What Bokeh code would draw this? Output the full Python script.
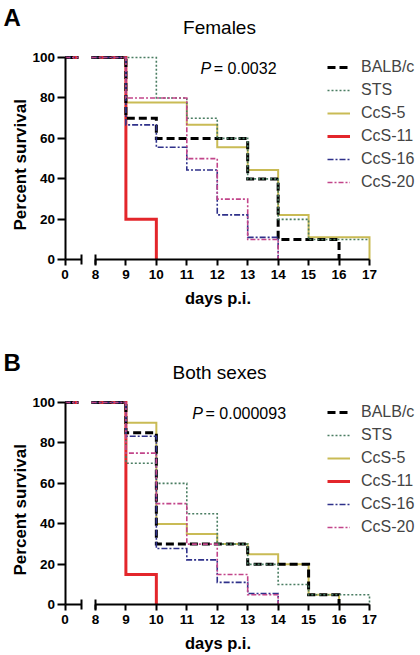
import math
from bokeh.plotting import figure
from bokeh.models import (Label, Legend, LegendItem, LinearAxis, FixedTicker, Range1d)
from bokeh.layouts import column
from bokeh.embed import file_html
from bokeh.resources import INLINE

FONT = "Liberation Sans"

# ---------------- data ----------------
strains = ["BALB/c", "STS", "CcS-5", "CcS-11", "CcS-16", "CcS-20"]

x_tick_days = [0, 8, 9, 10, 11, 12, 13, 14, 15, 16, 17]
y_ticks = [0, 20, 40, 60, 80, 100]

# Females: days of death and percent survival after each event
fem_balbc_days = [9, 10, 13, 14, 16]
fem_balbc_surv = [70, 60, 40, 10, 0]
fem_sts_days = [10, 11, 12, 13, 14, 15]
fem_sts_surv = [80, 70, 60, 40, 20, 10]
fem_ccs5_days = [9, 11, 12, 13, 14, 15, 17]
fem_ccs5_surv = [77.8, 66.7, 55.6, 44.4, 22.2, 11.1, 0]
fem_ccs11_days = [9, 10]
fem_ccs11_surv = [20, 0]
fem_ccs16_days = [9, 10, 11, 12, 13, 14]
fem_ccs16_surv = [66.7, 55.6, 44.4, 22.2, 11.1, 0]
fem_ccs20_days = [9, 11, 12, 13, 14]
fem_ccs20_surv = [80, 50, 30, 10, 0]
fem_end_days = [16, 17, 17, 10, 14, 14]
fem_p = "0.0032"

# Both sexes
both_balbc_days = [9, 10, 13, 15, 16]
both_balbc_surv = [85, 30, 20, 5, 0]
both_sts_days = [9, 10, 11, 12, 13, 14, 15, 17]
both_sts_surv = [70, 60, 45, 30, 20, 10, 5, 0]
both_ccs5_days = [9, 10, 11, 12, 13, 14, 15, 16]
both_ccs5_surv = [90, 40, 35, 30, 25, 20, 5, 0]
both_ccs11_days = [9, 10]
both_ccs11_surv = [15, 0]
both_ccs16_days = [9, 10, 11, 12, 13, 14]
both_ccs16_surv = [83.3, 27.8, 22.2, 11.1, 5.6, 0]
both_ccs20_days = [9, 10, 11, 12, 13, 14]
both_ccs20_surv = [75, 50, 30, 15, 5, 0]
both_end_days = [16, 17, 16, 10, 14, 14]
both_p = "0.000093"

# ---------------- style / geometry ----------------
COLORS = ["#000000", "#4a7d62", "#c9bb55", "#e3262b", "#2f318a", "#c2458a"]
DASHES = ["8 4", "2 2", "solid", "solid", "6 2 2 2", "5 2 2 2"]
WIDTHS = [3, 1.6, 2, 3, 1.6, 1.6]
DRAW_ORDER = [2, 3, 0, 1, 4, 5]

W = 418
PANEL_H = 327
X0_PX = 64.5          # canvas x of day 0
PX_PER_UNIT = 30.45   # px per axis unit (one day)
PX_PER_PCT = 2.023    # px per percent
TEXT_RAISE = 6        # baseline correction for labels

BREAK_SHIFT = 7           # days 1..7 are cut out of the axis
CURVE_GAP = (0.44, 0.87)  # break in the curves (axis units)
AXIS_GAP = (0.53, 1.0)    # break in the x axis (axis units)


def u(day):
    return day if day <= 0 else day - BREAK_SHIFT


def km_path(days, surv, end_day):
    xs = [0, CURVE_GAP[0], float("nan"), CURVE_GAP[1]]
    ys = [100, 100, float("nan"), 100]
    prev = 100
    for d, s in zip(days, surv):
        xs += [u(d), u(d)]
        ys += [prev, s]
        prev = s
    if end_day > days[-1]:
        xs.append(u(end_day))
        ys.append(prev)
    return xs, ys


def style_axis(ax):
    ax.axis_line_width = 2
    ax.major_tick_line_width = 2
    ax.minor_tick_line_width = 2
    ax.major_label_text_font = FONT
    ax.major_label_text_font_style = "bold"
    ax.major_label_text_font_size = "13.5px"
    ax.major_label_text_color = "#000000"
    ax.axis_line_color = "#000000"
    ax.major_tick_line_color = "#000000"
    ax.minor_tick_line_color = "#000000"


def make_panel(letter, title, pval, p_dx, series, end_days, y0_px):
    H = PANEL_H
    p = figure(width=W, height=H,
               x_range=Range1d(-X0_PX / PX_PER_UNIT, (W - X0_PX) / PX_PER_UNIT),
               y_range=Range1d(-(H - y0_px) / PX_PER_PCT, y0_px / PX_PER_PCT),
               output_backend="svg", toolbar_location=None,
               x_axis_location=None, y_axis_location=None,
               min_border_left=0, min_border_right=0,
               min_border_top=0, min_border_bottom=0)
    p.grid.visible = False
    p.outline_line_color = None
    p.background_fill_color = "white"
    p.border_fill_color = "white"

    # y axis
    ya = LinearAxis(fixed_location=0, bounds=(0, 100), ticker=FixedTicker(ticks=y_ticks))
    style_axis(ya)
    ya.major_tick_out = 8
    ya.major_tick_in = 0
    ya.minor_tick_out = 0
    ya.minor_tick_in = 0
    ya.major_label_standoff = 2
    p.add_layout(ya, "left")

    # x axis: two pieces with a break
    main_ticks = [u(d) for d in x_tick_days if d >= 8]
    xa = LinearAxis(fixed_location=0, bounds=(AXIS_GAP[1], u(x_tick_days[-1])),
                    ticker=FixedTicker(ticks=main_ticks, minor_ticks=[AXIS_GAP[1]]),
                    major_label_overrides={u(d): str(d) for d in x_tick_days if d >= 8})
    xb = LinearAxis(fixed_location=0, bounds=(0, AXIS_GAP[0]),
                    ticker=FixedTicker(ticks=[u(x_tick_days[0])], minor_ticks=[AXIS_GAP[0]]),
                    major_label_overrides={u(x_tick_days[0]): str(x_tick_days[0])})
    for ax in (xa, xb):
        style_axis(ax)
        ax.major_tick_out = 6
        ax.major_tick_in = 0
        ax.minor_tick_out = 5
        ax.minor_tick_in = 5
        ax.major_label_standoff = 4
        p.add_layout(ax, "below")

    # curves
    rends = [None] * len(strains)
    for i in DRAW_ORDER:
        days, surv = series[i]
        xs, ys = km_path(days, surv, end_days[i])
        rends[i] = p.line(xs, ys, line_color=COLORS[i], line_width=WIDTHS[i],
                          line_dash=DASHES[i], line_join="miter", line_cap="butt")

    # screen positions (origin bottom-left of the canvas)
    base = H - y0_px   # screen y of the 0 % line

    legend = Legend(items=[LegendItem(label=strains[i], renderers=[rends[i]])
                           for i in range(len(strains))],
                    location=(327, base + 67.5), orientation="vertical",
                    glyph_width=23, glyph_height=20, label_height=20, spacing=3,
                    padding=0, margin=0, label_standoff=11,
                    label_text_font=FONT, label_text_font_size="16px",
                    border_line_color=None, background_fill_alpha=0)
    p.add_layout(legend)

    def lab(x, y, text, size, style="normal", align="left", baseline="alphabetic", angle=0):
        p.add_layout(Label(x=x, y=y, x_units="screen", y_units="screen", text=text,
                           text_font=FONT, text_font_style=style, text_font_size=size,
                           text_align=align, text_baseline=baseline, angle=angle,
                           text_color="#000000"))

    r = TEXT_RAISE
    lab(3, base + 236.5 + r, letter, "24px", style="bold")
    lab(219, base + 226 + r, title, "19px", align="center")
    lab(X0_PX + p_dx, base + 185.5 + r, "P", "16px", style="italic")
    lab(X0_PX + p_dx + 13.3, base + 185.5 + r, "= " + pval, "16px")
    lab(217.5, base - 44 + r, "days p.i.", "16.5px", style="bold", align="center")
    lab(19.5, base + 95, "Percent survival", "17px", style="bold", align="center",
        baseline="middle", angle=math.pi / 2)
    return p


fem_series = [(fem_balbc_days, fem_balbc_surv), (fem_sts_days, fem_sts_surv),
              (fem_ccs5_days, fem_ccs5_surv), (fem_ccs11_days, fem_ccs11_surv),
              (fem_ccs16_days, fem_ccs16_surv), (fem_ccs20_days, fem_ccs20_surv)]
both_series = [(both_balbc_days, both_balbc_surv), (both_sts_days, both_sts_surv),
               (both_ccs5_days, both_ccs5_surv), (both_ccs11_days, both_ccs11_surv),
               (both_ccs16_days, both_ccs16_surv), (both_ccs20_days, both_ccs20_surv)]

pA = make_panel("A", "Females", fem_p, 135.5, fem_series, fem_end_days, 259.3)
pB = make_panel("B", "Both sexes", both_p, 127.2, both_series, both_end_days, 277.3)

layout = column(pA, pB, spacing=0)
open("out.html", "w").write(file_html(layout, INLINE))
